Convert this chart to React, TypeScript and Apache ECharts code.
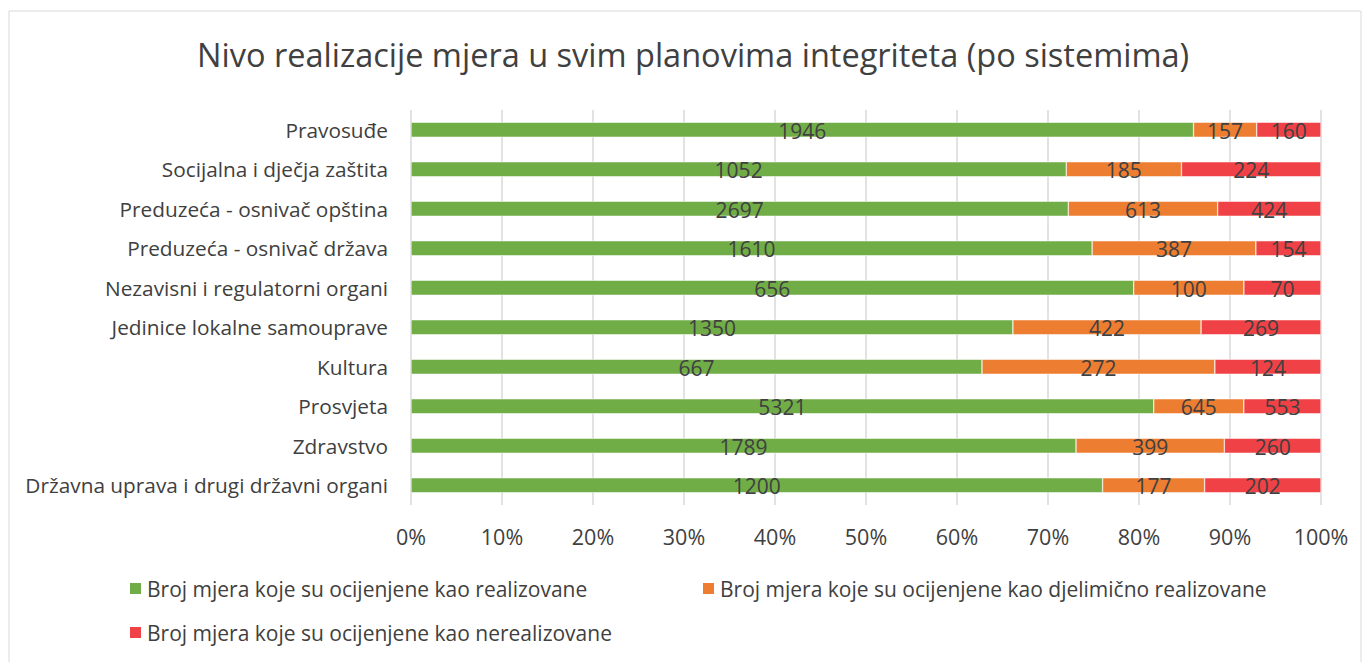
import React, { useEffect, useRef } from "react";
import * as echarts from "echarts";

const categories = [
  "Pravosuđe",
  "Socijalna i dječja zaštita",
  "Preduzeća - osnivač opština",
  "Preduzeća - osnivač država",
  "Nezavisni i regulatorni organi",
  "Jedinice lokalne samouprave",
  "Kultura",
  "Prosvjeta",
  "Zdravstvo",
  "Državna uprava i drugi državni organi",
];
const realizovane = [1946, 1052, 2697, 1610, 656, 1350, 667, 5321, 1789, 1200];
const djelimicno = [157, 185, 613, 387, 100, 422, 272, 645, 399, 177];
const nerealizovane = [160, 224, 424, 154, 70, 269, 124, 553, 260, 202];
const seriesNames = [
  "Broj mjera koje su ocijenjene kao realizovane",
  "Broj mjera koje su ocijenjene kao djelimično realizovane",
  "Broj mjera koje su ocijenjene kao nerealizovane",
];
const tickLabels = ["0%", "10%", "20%", "30%", "40%", "50%", "60%", "70%", "80%", "90%", "100%"];
const colors = ["#70AD47", "#ED7D31", "#F04246"];

export default function App() {
  const ref = useRef<HTMLDivElement>(null);
  useEffect(() => {
    document.body.style.margin = "0";
    const chart = echarts.init(ref.current!, null, { renderer: "svg" });
    const raw = [realizovane, djelimicno, nerealizovane];
    const totals = categories.map((_, i) => raw.reduce((s, arr) => s + arr[i], 0));
    const font = "'Open Sans', sans-serif";
    const series = raw.map((arr, k) => ({
      name: seriesNames[k],
      type: "bar",
      stack: "total",
      barWidth: 15,
      itemStyle: { color: colors[k], borderColor: "#fff", borderWidth: 0.5 },
      label: {
        show: true,
        position: "inside",
        color: "#404040",
        fontSize: 21,
        fontFamily: font,
        offset: [0, 1],
        formatter: (p: any) => String(arr[p.dataIndex]),
      },
      data: arr.map((v, i) => (v / totals[i]) * 100),
    }));
    const legendBase = {
      icon: "rect",
      itemWidth: 13,
      itemHeight: 13,
      itemGap: 5,
      textStyle: { fontSize: 21, color: "#404040", fontFamily: font },
    };
    chart.setOption({
      animation: false,
      title: {
        text: "Nivo realizacije mjera u svim planovima integriteta (po sistemima)",
        left: 192,
        top: 33,
        textStyle: { fontSize: 32.5, fontWeight: "normal", color: "#404040", fontFamily: font },
      },
      grid: { left: 411, right: 43, top: 110, bottom: 157 },
      xAxis: {
        type: "value",
        min: 0,
        max: 100,
        interval: 10,
        axisLine: { show: false },
        axisTick: { show: false },
        splitLine: { show: true, lineStyle: { color: "#D9D9D9", width: 1.5 } },
        axisLabel: {
          fontSize: 21.5,
          color: "#404040",
          fontFamily: font,
          margin: 20,
          formatter: (v: number) => tickLabels[Math.round(v / 10)],
        },
      },
      yAxis: {
        type: "category",
        inverse: true,
        data: categories,
        axisLine: { show: false },
        axisTick: { show: false },
        axisLabel: { fontSize: 20.8, color: "#404040", fontFamily: font, margin: 23 },
      },
      legend: [
        { ...legendBase, data: [seriesNames[0]], left: 123, top: 573 },
        { ...legendBase, data: [seriesNames[1]], left: 696, top: 573 },
        { ...legendBase, data: [seriesNames[2]], left: 123, top: 617 },
      ],
      graphic: [
        {
          type: "rect",
          shape: { x: 9, y: 11, width: 1352, height: 670 },
          style: { fill: "none", stroke: "#D9D9D9", lineWidth: 1 },
          silent: true,
        },
      ],
      series,
    });
    return () => chart.dispose();
  }, []);
  return <div ref={ref} style={{ width: 1364, height: 662 }} />;
}
